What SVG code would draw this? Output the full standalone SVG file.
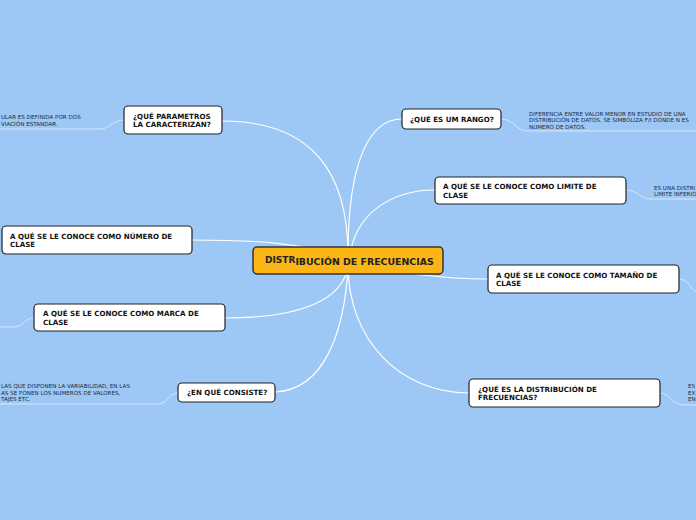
<svg xmlns="http://www.w3.org/2000/svg" width="696" height="520" viewBox="0 0 696 520">
<style>
.bg{fill:#9dc8f5}
.box{fill:#ffffff;stroke:#222;stroke-width:1.2}
.main{fill:#fbb616;stroke:#333;stroke-width:1.5}
.lbl{font-family:"DejaVu Sans",Verdana,sans-serif;font-weight:bold;font-size:7.1px;fill:#111}
.mlbl{font-family:"DejaVu Sans",Verdana,sans-serif;font-weight:bold;font-size:9.4px;fill:#222}
.leaf{font-family:"DejaVu Sans",Verdana,sans-serif;font-size:5.6px;fill:#1a2a40}
.con path{fill:none;stroke:#ffffff;stroke-width:1.2}
.sub path{fill:none;stroke:#d6e8fb;stroke-width:1}
</style>
<rect class="bg" x="0" y="0" width="696" height="520"/>
<g id="connectors" class="con">
<path d="M348,255 C348,170 310,121 222,121"/>
<path d="M348,255 C348,160 370,119 402,119"/>
<path d="M350,256 C355,215 390,190 435,190"/>
<path d="M192,240 C260,240 300,243 348,258"/>
<path d="M348,262 C400,274 450,279 488,279"/>
<path d="M225,318 C300,318 345,300 348,264"/>
<path d="M275,392 C325,390 345,330 348,265"/>
<path d="M348,265 C348,340 400,393 469,393"/>
</g>
<g id="sub-connectors" class="sub">
<path d="M124,120 C112,120 110,129 100,129 L0,129"/>
<path d="M501,119 C515,119 515,131 528,131 L696,131"/>
<path d="M626,190 C638,190 640,199 650,199 L696,199"/>
<path d="M679,279 C688,279 690,288 696,292"/>
<path d="M34,318 C24,318 24,327 14,327 L0,327"/>
<path d="M178,393 C168,393 168,404 158,404 L0,404"/>
<path d="M660,393 C670,393 672,405 684,405 L696,405"/>
</g>
<g id="center">
<rect class="main" x="253" y="247" width="190" height="27" rx="4"/>
<text class="mlbl" x="265" y="264.5"><tspan dy="-1.3" font-size="9">DISTR</tspan><tspan dy="1.3">IBUCIÓN DE FRECUENCIAS</tspan></text>
</g>
<g id="n-parametros">
<rect class="box" x="124" y="106" width="98" height="28" rx="4"/>
<text class="lbl" x="133" y="118.5">¿QUÉ PARAMETROS</text>
<text class="lbl" x="133" y="127">LA CARACTERIZAN?</text>
</g>
<g id="leaf-parametros">
<text class="leaf" x="1" y="119">ULAR ES DEFINIDA POR DOS</text>
<text class="leaf" x="1" y="126">VIACIÓN ESTANDAR.</text>
</g>
<g id="n-numero">
<rect class="box" x="2" y="226" width="190" height="28" rx="4"/>
<text class="lbl" x="10" y="238.5">A QUÉ SE LE CONOCE COMO NÚMERO DE</text>
<text class="lbl" x="10" y="247">CLASE</text>
</g>
<g id="n-marca">
<rect class="box" x="34" y="304" width="191" height="27" rx="4"/>
<text class="lbl" x="43" y="316">A QUÉ SE LE CONOCE COMO MARCA DE</text>
<text class="lbl" x="43" y="324.5">CLASE</text>
</g>
<g id="n-consiste">
<rect class="box" x="178" y="383" width="97" height="19" rx="4"/>
<text class="lbl" x="187" y="395">¿EN QUÉ CONSISTE?</text>
</g>
<g id="leaf-consiste">
<text class="leaf" x="1" y="388">LAS QUE DISPONEN LA VARIABILIDAD, EN LAS</text>
<text class="leaf" x="1" y="394.5">AS SE PONEN LOS NUMEROS DE VALORES,</text>
<text class="leaf" x="1" y="401">TAJES ETC.</text>
</g>
<g id="n-rango">
<rect class="box" x="402" y="109" width="99" height="20" rx="4"/>
<text class="lbl" x="410" y="121.5">¿QUÉ ES UM RANGO?</text>
</g>
<g id="leaf-rango">
<text class="leaf" x="529" y="115.5">DIFERENCIA ENTRE VALOR MENOR EN ESTUDIO DE UNA</text>
<text class="leaf" x="529" y="122">DISTRIBUCIÓN DE DATOS. SE SIMBOLIZA F/I DONDE N ES</text>
<text class="leaf" x="529" y="128.5">NÚMERO DE DATOS.</text>
</g>
<g id="n-limite">
<rect class="box" x="435" y="177" width="191" height="27" rx="4"/>
<text class="lbl" x="443" y="189">A QUÉ SE LE CONOCE COMO LIMITE DE</text>
<text class="lbl" x="443" y="197.5">CLASE</text>
</g>
<g id="leaf-limite">
<text class="leaf" x="654" y="189.5">ES UNA DISTRI</text>
<text class="leaf" x="654" y="196">LIMITE INFERIO</text>
</g>
<g id="n-tamano">
<rect class="box" x="488" y="265" width="191" height="28" rx="4"/>
<text class="lbl" x="496" y="277.5">A QUÉ SE LE CONOCE COMO TAMAÑO DE</text>
<text class="lbl" x="496" y="286">CLASE</text>
</g>
<g id="n-distribucion">
<rect class="box" x="469" y="379" width="191" height="28" rx="4"/>
<text class="lbl" x="478" y="391.5">¿QUÉ ES LA DISTRIBUCIÓN DE</text>
<text class="lbl" x="478" y="400">FRECUENCIAS?</text>
</g>
<g id="leaf-distribucion">
<text class="leaf" x="688" y="388">ES</text>
<text class="leaf" x="688" y="394.5">EX</text>
<text class="leaf" x="688" y="401">EN</text>
</g>
</svg>
